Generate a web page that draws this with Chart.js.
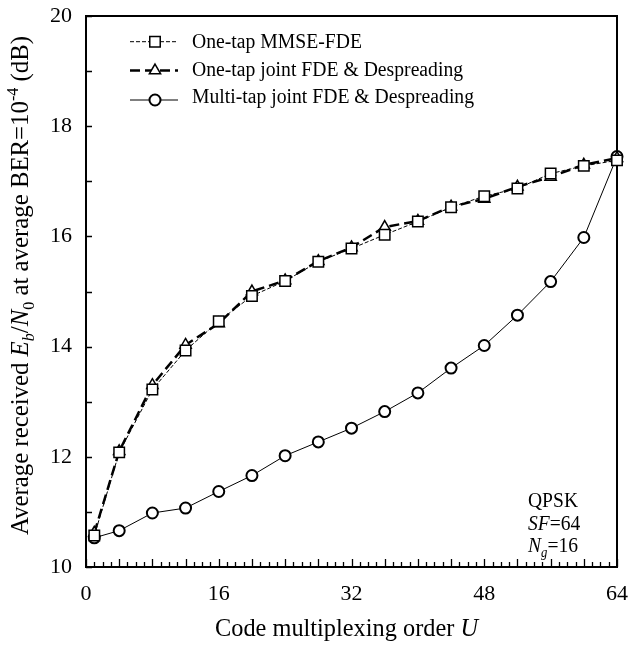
<!DOCTYPE html>
<html>
<head>
<meta charset="utf-8">
<script src="https://cdn.jsdelivr.net/npm/chart.js"></script>
<style>
  html, body { margin: 0; padding: 0; background: #fff; }
  #wrap { width: 633px; height: 646px; }
</style>
</head>
<body>
<div id="wrap"><canvas id="c" width="633" height="646"></canvas></div>
<script>
// ---- data ----
const codeOrderU = [1, 4, 8, 12, 16, 20, 24, 28, 32, 36, 40, 44, 48, 52, 56, 60, 64];
const oneTapMMSE = [10.57, 12.08, 13.22, 13.93, 14.46, 14.92, 15.19, 15.54, 15.78, 16.03, 16.27, 16.53, 16.73, 16.87, 17.14, 17.28, 17.38];
const oneTapJoint = [10.62, 12.10, 13.30, 14.03, 14.42, 15.00, 15.20, 15.55, 15.80, 16.17, 16.28, 16.54, 16.68, 16.90, 17.08, 17.30, 17.42];
const multiTapJoint = [10.53, 10.66, 10.98, 11.07, 11.37, 11.66, 12.02, 12.27, 12.52, 12.82, 13.16, 13.61, 14.02, 14.57, 15.18, 15.98, 17.45];
const seriesNames = ['One-tap MMSE-FDE', 'One-tap joint FDE & Despreading', 'Multi-tap joint FDE & Despreading'];
const xTickValues = [0, 16, 32, 48, 64];
const yTickValues = [10, 12, 14, 16, 18, 20];

const SERIF = '"Liberation Serif", "Times New Roman", serif';

function pts(vals) { return codeOrderU.map((u, i) => ({ x: u, y: vals[i] })); }

// ---- text helpers ----
function runFont(r, F) {
  const s = (r.sub || r.sup) ? F * 0.65 : F;
  return (r.i ? 'italic ' : '') + s + 'px ' + SERIF;
}
function runsWidth(ctx, runs, F) {
  let w = 0;
  for (const r of runs) { ctx.font = runFont(r, F); w += ctx.measureText(r.t).width; }
  return w;
}
function drawRuns(ctx, runs, F, sx, sy) {
  let cx = 0;
  ctx.save();
  ctx.scale(sx, sy);
  ctx.textBaseline = 'alphabetic';
  ctx.textAlign = 'left';
  for (const r of runs) {
    ctx.font = runFont(r, F);
    const dy = r.sub ? F * 0.25 : (r.sup ? -F * 0.42 : 0);
    ctx.fillText(r.t, cx, dy);
    cx += ctx.measureText(r.t).width;
  }
  ctx.restore();
}

function drawMarker(ctx, style, x, y, r, bw) {
  ctx.save();
  ctx.setLineDash([]);
  ctx.lineWidth = bw;
  ctx.strokeStyle = '#000';
  ctx.fillStyle = '#fff';
  ctx.beginPath();
  if (style === 'rect') {
    const s = Math.SQRT1_2 * r;
    ctx.rect(x - s, y - s, 2 * s, 2 * s);
  } else if (style === 'triangle') {
    ctx.moveTo(x, y - r);
    ctx.lineTo(x + r * Math.sin(Math.PI / 3), y + r * 0.5);
    ctx.lineTo(x - r * Math.sin(Math.PI / 3), y + r * 0.5);
    ctx.closePath();
  } else {
    ctx.arc(x, y, r, 0, Math.PI * 2);
  }
  ctx.fill();
  ctx.stroke();
  ctx.restore();
}

const framePlugin = {
  id: 'frame',
  beforeDatasetsDraw(chart) {
    const { ctx, chartArea: a, scales } = chart;
    ctx.save();
    ctx.strokeStyle = '#000';
    ctx.lineWidth = 1.3;
    ctx.beginPath();
    for (let v = scales.x.min; v <= scales.x.max; v++) {
      const px = Math.round(scales.x.getPixelForValue(v)) + 0.5;
      const len = (v % 4 === 0) ? 8 : 5;
      ctx.moveTo(px, a.bottom);
      ctx.lineTo(px, a.bottom - len);
    }
    for (let v = scales.y.min; v <= scales.y.max; v++) {
      const py = Math.round(scales.y.getPixelForValue(v)) + 0.5;
      ctx.moveTo(a.left, py);
      ctx.lineTo(a.left + 6, py);
    }
    ctx.stroke();
    ctx.lineWidth = 2;
    ctx.strokeRect(a.left, a.top, a.right - a.left, a.bottom - a.top);
    ctx.restore();
  },
  afterDraw(chart) {
    const { ctx } = chart;
    ctx.save();
    ctx.fillStyle = '#000';

    // Y axis title (rotated)
    const yRuns = [
      { t: 'Average received ' }, { t: 'E', i: 1 }, { t: 'b', i: 1, sub: 1 }, { t: '/' },
      { t: 'N', i: 1 }, { t: '0', sub: 1 }, { t: ' at average BER=10' }, { t: '-4', sup: 1 }, { t: ' (dB)' }
    ];
    const FY = 24.5;
    const wy = runsWidth(ctx, yRuns, FY);
    ctx.save();
    ctx.translate(28, 535);
    ctx.rotate(-Math.PI / 2);
    drawRuns(ctx, yRuns, FY, 499 / wy, 1);
    ctx.restore();

    // X axis title
    const xRuns = [{ t: 'Code multiplexing order ' }, { t: 'U', i: 1 }];
    const FX = 24.5;
    const wx = runsWidth(ctx, xRuns, FX);
    ctx.save();
    ctx.translate(215, 636);
    drawRuns(ctx, xRuns, FX, 263 / wx, 1);
    ctx.restore();

    // Legend
    const FL = 20.5;
    const w0 = runsWidth(ctx, [{ t: seriesNames[0] }], FL);
    const lsx = 170 / w0;
    const lineYs = [41.7, 70.5, 100];
    const baseYs = [48.3, 76.3, 103.3];
    chart.data.datasets.forEach((ds, i) => {
      ctx.save();
      ctx.strokeStyle = '#000';
      ctx.lineWidth = ds.borderWidth;
      ctx.setLineDash(ds.borderDash || []);
      ctx.beginPath();
      ctx.moveTo(130, lineYs[i]);
      ctx.lineTo(178, lineYs[i]);
      ctx.stroke();
      ctx.restore();
      drawMarker(ctx, ds.pointStyle, 155, lineYs[i], ds.pointRadius, ds.pointBorderWidth);
      ctx.save();
      ctx.translate(192, baseYs[i]);
      drawRuns(ctx, [{ t: ds.label }], FL, lsx, 1);
      ctx.restore();
    });

    // Annotation
    const FA = 21;
    const wq = runsWidth(ctx, [{ t: 'QPSK' }], FA);
    const asx = 50 / wq;
    const notes = [
      [{ t: 'QPSK' }],
      [{ t: 'SF', i: 1 }, { t: '=64' }],
      [{ t: 'N', i: 1 }, { t: 'g', i: 1, sub: 1 }, { t: '=16' }]
    ];
    const noteY = [506.7, 530, 551.7];
    notes.forEach((runs, i) => {
      ctx.save();
      ctx.translate(528, noteY[i]);
      drawRuns(ctx, runs, FA, asx, 1);
      ctx.restore();
    });
    ctx.restore();
  }
};

const chart = new Chart(document.getElementById('c'), {
  type: 'line',
  data: {
    datasets: [
      {
        label: seriesNames[0], data: pts(oneTapMMSE),
        borderColor: '#000', borderWidth: 1, borderDash: [4, 2],
        pointStyle: 'rect', pointRadius: 7.4, pointBorderWidth: 1.5,
        pointBackgroundColor: '#fff', pointBorderColor: '#000', clip: false
      },
      {
        label: seriesNames[1], data: pts(oneTapJoint),
        borderColor: '#000', borderWidth: 2.5, borderDash: [10, 5],
        pointStyle: 'triangle', pointRadius: 6.5, pointBorderWidth: 1.5,
        pointBackgroundColor: '#fff', pointBorderColor: '#000', clip: false
      },
      {
        label: seriesNames[2], data: pts(multiTapJoint),
        borderColor: '#000', borderWidth: 1,
        pointStyle: 'circle', pointRadius: 5.5, pointBorderWidth: 2,
        pointBackgroundColor: '#fff', pointBorderColor: '#000', clip: false
      }
    ]
  },
  options: {
    responsive: false,
    animation: false,
    devicePixelRatio: 1,
    layout: { padding: { top: 16, right: 16, left: 0, bottom: 0 } },
    plugins: { legend: { display: false }, tooltip: { enabled: false }, title: { display: false } },
    elements: { line: { tension: 0 } },
    scales: {
      x: {
        type: 'linear', min: 0, max: 64,
        grid: { display: false, drawTicks: false },
        border: { display: false },
        afterBuildTicks: (s) => { s.ticks = xTickValues.map(v => ({ value: v })); },
        afterFit: (s) => { s.height = 79; s.paddingLeft = 0; s.paddingRight = 0; s.paddingTop = 0; s.paddingBottom = 0; },
        ticks: { color: '#000', padding: 14, maxRotation: 0, autoSkip: false,
                 font: { family: SERIF, size: 22 } }
      },
      y: {
        type: 'linear', min: 10, max: 20,
        grid: { display: false, drawTicks: false },
        border: { display: false },
        afterBuildTicks: (s) => { s.ticks = yTickValues.map(v => ({ value: v })); },
        afterFit: (s) => { s.width = 86; s.paddingLeft = 0; s.paddingRight = 0; s.paddingTop = 0; s.paddingBottom = 0; },
        ticks: { color: '#000', padding: 14, autoSkip: false,
                 font: { family: SERIF, size: 22 } }
      }
    }
  },
  plugins: [framePlugin]
});
</script>
</body>
</html>
